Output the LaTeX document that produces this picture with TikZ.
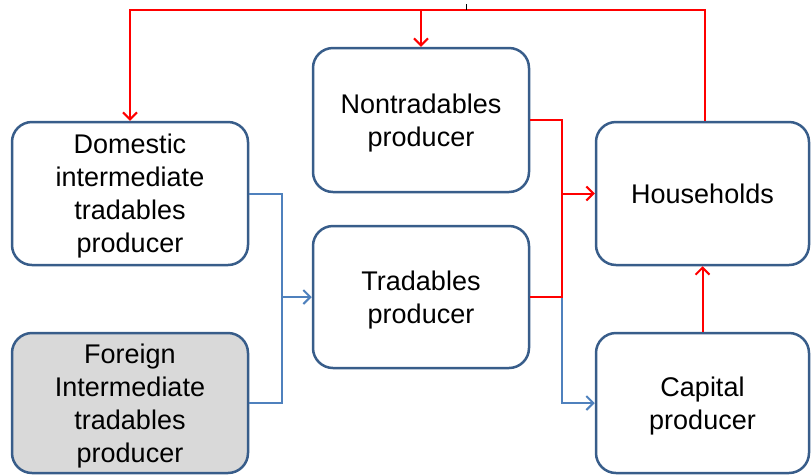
\documentclass[tikz,border=0pt]{standalone}
\usepackage{fontspec}
\setmainfont{Liberation Sans}
\usetikzlibrary{arrows.meta}
\definecolor{boxline}{RGB}{56,93,138}
\definecolor{bluelink}{RGB}{79,129,189}
\definecolor{redlink}{RGB}{255,0,0}
\definecolor{greyfill}{RGB}{217,217,217}
\tikzset{
  boxnode/.style={draw=boxline, line width=2.5pt, rounded corners=20pt, fill=white,
    align=center, inner sep=0pt, font=\fontsize{27}{33}\selectfont,
    text depth=-2pt},
  redline/.style={draw=redlink, line width=2pt},
  blueline/.style={draw=bluelink, line width=2pt},
  tip/.style={-{Straight Barb[length=7pt,width=14pt,line width=2pt]}}
}
\begin{document}
\begin{tikzpicture}[x=1pt,y=-1pt]
\useasboundingbox (0,0) rectangle (811,475);
\node[boxnode, minimum width=236pt, minimum height=143pt] (dom) at (130,193.5) {Domestic\\intermediate\\tradables\\producer};
\node[boxnode, fill=greyfill, minimum width=236pt, minimum height=140pt] (for) at (130,403) {Foreign\\Intermediate\\tradables\\producer};
\node[boxnode, minimum width=216pt, minimum height=144pt] (nontr) at (421,120) {Nontradables\\producer};
\node[boxnode, minimum width=216pt, minimum height=142pt] (trad) at (421,297) {Tradables\\producer};
\node[boxnode, minimum width=213pt, minimum height=143pt] (hh) at (702.5,193.5) {Households};
\node[boxnode, minimum width=213pt, minimum height=140pt] (cap) at (702.5,403) {Capital\\producer};
\coordinate (top) at (0,10);
\coordinate (bx) at (282,0);
\coordinate (rx) at (562,0);
% top red feedback
\draw[redline, tip] ([xshift=2.5pt]hh.north) |- (dom.north |- top) -- (dom.north);
\draw[redline, tip] (nontr.north |- top) -- (nontr.north);
\draw[black, line width=1pt] (466,4) -- (466,10);
% blue intermediate inputs
\draw[blueline] (dom.east) -| (bx |- for.east) -- (for.east);
\draw[blueline, tip] (bx |- trad.west) -- (trad.west);
% red to households
\draw[blueline, tip] (rx |- trad.east) |- (cap.west);
\draw[redline] (nontr.east) -| (rx |- trad.east) -- (trad.east);
\draw[redline, tip] (rx |- hh.west) -- (hh.west);
\draw[redline, tip] (cap.north) -- (hh.south);
\end{tikzpicture}
\end{document}
